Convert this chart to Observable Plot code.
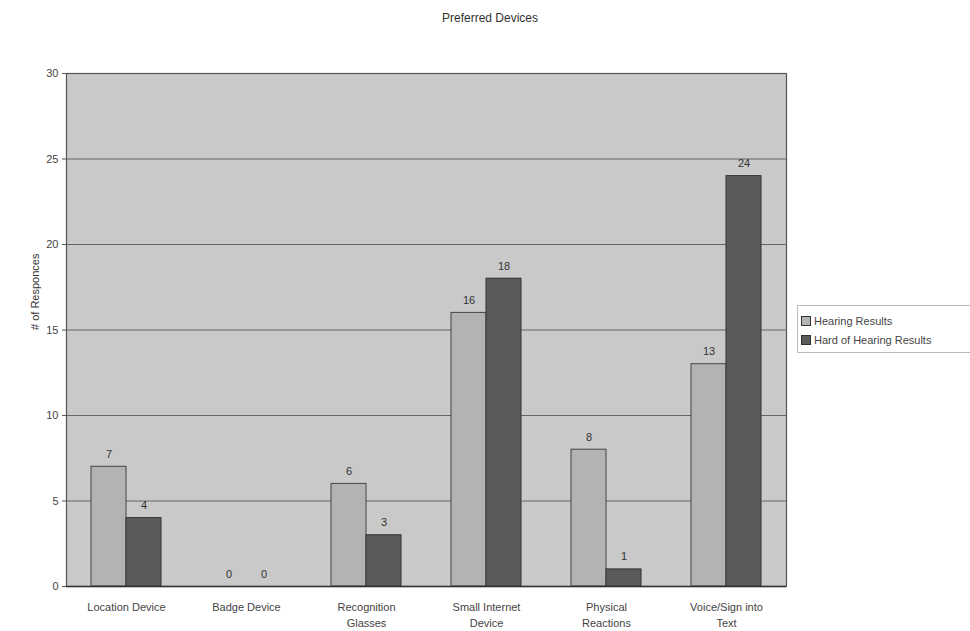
<!DOCTYPE html>
<html>
<head>
<meta charset="utf-8">
<script src="https://cdn.jsdelivr.net/npm/d3@7"></script>
<script src="https://cdn.jsdelivr.net/npm/@observablehq/plot@0.6"></script>
<style>
  body { margin: 0; background: #fff; font-family: "Liberation Sans", Arial, sans-serif; }
  #wrap { position: relative; width: 970px; height: 631px; overflow: hidden; }
  #title { height: 36px; line-height: 36px; text-align: center; font-size: 12px; color: #333; padding-left: 10px; }
  #legend { position: absolute; left: 797px; top: 305px; width: 190px; height: 46px; border: 1px solid #bbb; background: #fff; font-size: 11px; color: #444; }
  .item { display: flex; align-items: center; height: 19px; margin-left: 3px; }
  .item:first-child { margin-top: 5px; }
  .sw { width: 8px; height: 8px; border: 1px solid #333; margin-right: 3px; }
</style>
</head>
<body>
<div id="wrap">
  <div id="title">Preferred Devices</div>
  <div id="chart"></div>
  <div id="legend"></div>
</div>
<script>
// Device categories along the bottom axis
const categories = ["Location Device", "Badge Device", "Recognition Glasses", "Small Internet Device", "Physical Reactions", "Voice/Sign into Text"];
// Axis labels broken onto two lines
const categoryLabels = ["Location Device", "Badge Device", "Recognition\nGlasses", "Small Internet\nDevice", "Physical\nReactions", "Voice/Sign into\nText"];
const seriesNames = ["Hearing Results", "Hard of Hearing Results"];
const hearing = [7, 0, 6, 16, 8, 13];
const hardOfHearing = [4, 0, 3, 18, 1, 24];
const yTicks = [0, 5, 10, 15, 20, 25, 30];
const colors = ["#b3b3b3", "#5b5b5b"];

const rows = categories.flatMap((c, i) => [
  {category: c, series: seriesNames[0], value: hearing[i]},
  {category: c, series: seriesNames[1], value: hardOfHearing[i]}
]);
const hearingRows = rows.filter(d => d.series === seriesNames[0]);
const hohRows = rows.filter(d => d.series === seriesNames[1]);
const labelOf = new Map(categories.map((c, i) => [c, categoryLabels[i]]));

const valueText = (data, dx) => Plot.text(data, {
  x: "category", y: "value", text: d => String(d.value),
  dx, lineAnchor: "bottom", dy: -9, fill: "#333", fontSize: 11
});

const chart = Plot.plot({
  width: 970,
  height: 595,
  marginTop: 37,
  marginBottom: 45,
  marginLeft: 66,
  marginRight: 184,
  style: {fontFamily: "'Liberation Sans', Arial, sans-serif", fontSize: "11px", color: "#444"},
  x: {domain: categories, padding: 0, axis: null},
  y: {domain: [0, 30], axis: null},
  color: {domain: seriesNames, range: colors},
  marks: [
    Plot.frame({fill: "#c9c9c9", stroke: null}),
    Plot.ruleY(yTicks.filter(t => t > 0 && t < 30), {stroke: "#666", strokeWidth: 1}),
    // Hearing bars in the left half of each group
    Plot.barY(hearingRows, {
      x: "category", y: "value", fill: "series", stroke: "#444", strokeWidth: 1,
      insetLeft: 25, insetRight: 60
    }),
    // Hard of hearing bars in the right half
    Plot.barY(hohRows, {
      x: "category", y: "value", fill: "series", stroke: "#333", strokeWidth: 1,
      insetLeft: 60, insetRight: 25
    }),
    valueText(hearingRows, -17.5),
    valueText(hohRows, 17.5),
    Plot.frame({stroke: "#555", strokeWidth: 1.2}),
    Plot.ruleY([0], {stroke: "#333", strokeWidth: 1.5}),
    Plot.axisY(yTicks, {tickSize: 4, tickPadding: 4, stroke: "#555", fill: "#444", fontSize: 11, label: null}),
    Plot.axisX({tickSize: 0, tickPadding: 13, tickFormat: c => labelOf.get(c), fill: "#444", fontSize: 11, lineHeight: 1.45, label: null}),
    Plot.text(["# of Responces"], {
      frameAnchor: "left", dx: -31, rotate: -90, fill: "#333", fontSize: 11
    })
  ]
});

document.getElementById("chart").appendChild(chart);

const legend = document.getElementById("legend");
seriesNames.forEach((s, i) => {
  const item = document.createElement("div");
  item.className = "item";
  const sw = document.createElement("span");
  sw.className = "sw";
  sw.style.background = colors[i];
  item.appendChild(sw);
  item.appendChild(document.createTextNode(s));
  legend.appendChild(item);
});
</script>
</body>
</html>
